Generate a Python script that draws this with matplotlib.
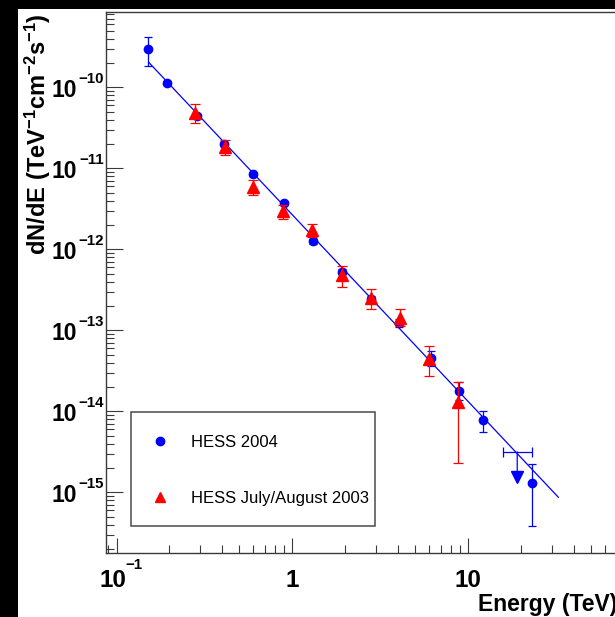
import numpy as np
import matplotlib
matplotlib.use("Agg")
import matplotlib.pyplot as plt
from matplotlib.lines import Line2D
from matplotlib.patches import Rectangle
from matplotlib.transforms import ScaledTranslation
from matplotlib.ticker import LogLocator, NullFormatter

# ---------------- data ----------------
# HESS 2004 spectrum: energy (TeV), flux, lower / upper flux bounds
hess04_energy = [0.152, 0.194, 0.286, 0.410, 0.600, 0.896, 1.315, 1.906,
                 2.787, 4.04, 6.11, 8.81, 12.13, 23.1]
hess04_flux = [2.97e-10, 1.14e-10, 4.43e-11, 2.00e-11, 8.58e-12, 3.73e-12,
               1.26e-12, 5.29e-13, 2.41e-13, 1.24e-13, 4.51e-14, 1.78e-14,
               7.82e-15, 1.31e-15]
hess04_low = [1.85e-10, 1.08e-10, 4.20e-11, 1.90e-11, 8.10e-12, 3.50e-12,
              1.17e-12, 4.90e-13, 2.20e-13, 1.10e-13, 3.66e-14, 1.38e-14,
              5.60e-15, 3.84e-16]
hess04_high = [4.22e-10, 1.20e-10, 4.65e-11, 2.10e-11, 9.10e-12, 3.95e-12,
               1.35e-12, 5.70e-13, 2.62e-13, 1.38e-13, 5.55e-14, 2.30e-14,
               1.02e-14, 2.23e-15]

# HESS 2004 upper limit
ul_energy = 18.97
ul_energy_low = 15.7
ul_energy_high = 22.9
ul_flux = 3.15e-15

# HESS July/August 2003 spectrum
hess03_energy = [0.281, 0.412, 0.600, 0.888, 1.288, 1.906, 2.787, 4.09, 5.98, 8.77]
hess03_flux = [4.77e-11, 1.82e-11, 5.93e-12, 3.00e-12, 1.73e-12, 4.82e-13,
               2.52e-13, 1.41e-13, 4.43e-14, 1.31e-14]
hess03_low = [3.66e-11, 1.45e-11, 4.72e-12, 2.34e-12, 1.42e-12, 3.45e-13,
              1.83e-13, 1.13e-13, 2.75e-14, 2.28e-15]
hess03_high = [6.22e-11, 2.23e-11, 7.23e-12, 3.52e-12, 2.04e-12, 6.22e-13,
               3.27e-13, 1.82e-13, 6.46e-14, 2.32e-14]

# power-law fit dN/dE = N0 * E^-gamma
fit_norm = 2.66e-12
fit_index = 2.306
fit_emin = 0.152
fit_emax = 32.5

# tick labels as (mantissa, exponent) pairs
xtick_values = [0.1, 1, 10]
xtick_labels = [("10", "\u22121"), ("1", None), ("10", None)]
ytick_values = [1e-10, 1e-11, 1e-12, 1e-13, 1e-14, 1e-15]
ytick_labels = [("10", "\u221210"), ("10", "\u221211"), ("10", "\u221212"),
                ("10", "\u221213"), ("10", "\u221214"), ("10", "\u221215")]
legend_labels = ["HESS 2004", "HESS July/August 2003"]
xlabel = "Energy (TeV)"
ylabel = r"$dN/dE\ (TeV^{-1}cm^{-2}s^{-1})$"

# ---------------- style ----------------
plt.rcParams["font.family"] = ["Liberation Sans", "DejaVu Sans"]
plt.rcParams["mathtext.fontset"] = "custom"
plt.rcParams["mathtext.rm"] = "Liberation Sans:bold"
plt.rcParams["mathtext.it"] = "Liberation Sans:bold"
plt.rcParams["mathtext.bf"] = "Liberation Sans:bold"
plt.rcParams["mathtext.sf"] = "Liberation Sans:bold"
plt.rcParams["mathtext.default"] = "rm"

W, H = 615, 617
DPI = 100
fig = plt.figure(figsize=(W / DPI, H / DPI), dpi=DPI)
fig.patch.set_facecolor("white")


def px(dx, dy):
    """Offset in pixels (x right, y down) as a transform."""
    return ScaledTranslation(dx / DPI, -dy / DPI, fig.dpi_scale_trans)


ax = fig.add_axes([105.7 / W, 1 - 552.7 / H, (644.2 - 105.7) / W, (552.7 - 12.3) / H])
ax.set_xscale("log")
ax.set_yscale("log")
ax.set_xlim(0.0868, 100)
ax.set_ylim(10 ** -15.746, 10 ** -9.074)

frame_color = "#3a3a3a"
for side in ["left", "bottom", "top", "right"]:
    ax.spines[side].set_color(frame_color)
    ax.spines[side].set_linewidth(1.0)

ax.xaxis.set_major_locator(LogLocator(base=10, numticks=20))
ax.xaxis.set_minor_locator(LogLocator(base=10, subs=np.arange(2, 10), numticks=50))
ax.yaxis.set_major_locator(LogLocator(base=10, numticks=20))
ax.yaxis.set_minor_locator(LogLocator(base=10, subs=np.arange(2, 10), numticks=50))
ax.xaxis.set_minor_formatter(NullFormatter())
ax.yaxis.set_minor_formatter(NullFormatter())
ax.tick_params(which="both", direction="in", color=frame_color, width=0.8,
               labelbottom=False, labelleft=False, top=False, right=False)
ax.tick_params(axis="x", which="major", length=11)
ax.tick_params(axis="x", which="minor", length=5.5)
ax.tick_params(axis="y", which="major", length=12)
ax.tick_params(axis="y", which="minor", length=5.8)

xbase_fs = 17.5
ybase_fs = 16.5
exp_fs = 10.8
tick_kw = dict(fontweight="bold")

# x tick labels
xtr = ax.get_xaxis_transform()
for v, (m, e) in zip(xtick_values, xtick_labels):
    if e is None:
        ax.text(v, 0, m, transform=xtr + px(0, 34), ha="center", va="baseline",
                fontsize=xbase_fs, **tick_kw)
    else:
        ax.text(v, 0, m, transform=xtr + px(9.5, 34), ha="right", va="baseline",
                fontsize=xbase_fs, **tick_kw)
        ax.text(v, 0, e, transform=xtr + px(8.5, 16.5), ha="left", va="baseline",
                fontsize=exp_fs, **tick_kw)

# y tick labels
ytr = ax.get_yaxis_transform()
for v, (m, e) in zip(ytick_values, ytick_labels):
    ax.text(0, v, m, transform=ytr + px(-28.5, 9.8), ha="right", va="baseline",
            fontsize=ybase_fs, **tick_kw)
    ax.text(0, v, e, transform=ytr + px(-1.7, -4.6), ha="right", va="baseline",
            fontsize=exp_fs, **tick_kw)

# axis titles
fig.text(478.3 / W, 1 - 610.7 / H, xlabel, ha="left", va="baseline",
         fontsize=16.5, fontweight="bold")
fig.text(45.5 / W, 1 - 13.3 / H, ylabel, rotation=90, rotation_mode="anchor",
         ha="right", va="baseline", fontsize=17)

# fit line
e_fit = np.logspace(np.log10(fit_emin), np.log10(fit_emax), 200)
ax.plot(e_fit, fit_norm * e_fit ** (-fit_index), color="blue", lw=0.9, zorder=2)

# HESS 2004 points
e04 = np.array(hess04_energy)
f04 = np.array(hess04_flux)
ax.errorbar(e04, f04, yerr=[f04 - np.array(hess04_low), np.array(hess04_high) - f04],
            fmt="o", color="blue", ms=6.0, elinewidth=0.9, capsize=3.1,
            capthick=0.9, zorder=3)

# upper limit with downward arrow
ax.errorbar([ul_energy], [ul_flux],
            xerr=[[ul_energy - ul_energy_low], [ul_energy_high - ul_energy]],
            fmt="none", ecolor="blue", elinewidth=0.9, capsize=3.5, capthick=0.9,
            zorder=3)
ax.annotate("", xy=(ul_energy, ul_flux), xytext=(0, -14.5), textcoords="offset points",
            arrowprops=dict(arrowstyle="-", color="blue", lw=0.9,
                            shrinkA=0, shrinkB=0), zorder=3)
ax.plot([ul_energy], [ul_flux], marker="v", color="blue", ms=8.6, ls="none",
        transform=ax.transData + px(0, 25.5), zorder=3)

# HESS 2003 points
e03 = np.array(hess03_energy)
f03 = np.array(hess03_flux)
ax.errorbar(e03, f03, yerr=[f03 - np.array(hess03_low), np.array(hess03_high) - f03],
            fmt="^", color="red", ms=8.3, elinewidth=0.9, capsize=3.8,
            capthick=0.9, zorder=4)

# legend box
x0, y0, x1, y1 = 130.7, 412.3, 375.0, 525.7
fig.add_artist(Rectangle((x0 / W, 1 - y1 / H), (x1 - x0) / W, (y1 - y0) / H,
                         transform=fig.transFigure, facecolor="white",
                         edgecolor="#4a4a4a", lw=1.1, zorder=5))
handles = [Line2D([], [], marker="o", color="blue", ls="none", ms=6.0),
           Line2D([], [], marker="^", color="red", ls="none", ms=7.3)]
leg = fig.legend(handles, legend_labels, loc="center left",
                 bbox_to_anchor=(x0 / W, 1 - 470.35 / H), frameon=False,
                 fontsize=12, borderpad=0, borderaxespad=0, handlelength=3.52,
                 handletextpad=0.11, labelspacing=2.48)
leg.set_zorder(6)

# black border strips
fig.add_artist(Rectangle((0, 1 - 9 / H), 1, 9 / H, transform=fig.transFigure,
                         facecolor="black", edgecolor="none", zorder=20))
fig.add_artist(Rectangle((0, 0), 18 / W, 1, transform=fig.transFigure,
                         facecolor="black", edgecolor="none", zorder=20))

fig.savefig("out.png", dpi=DPI)
